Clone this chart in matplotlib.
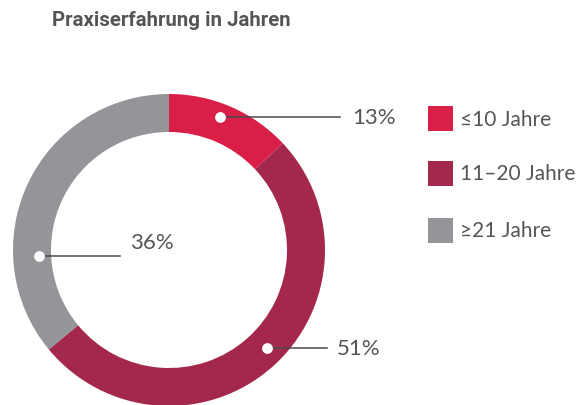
import numpy as np
import matplotlib.pyplot as plt
from matplotlib.patches import Rectangle

# data
categories = ['≤10 Jahre', '11–20 Jahre', '≥21 Jahre']
shares = [13, 51, 36]
colors = ['#d91e48', '#a3284b', '#939598']
labels = ['13%', '51%', '36%']

W, H = 576, 406
fig = plt.figure(figsize=(W / 100, H / 100), dpi=100)
ax = fig.add_axes([0, 0, 1, 1])

cx, cy = 169, H - 251
r_out, ring = 156, 38
ax.pie(shares, colors=colors, startangle=90, counterclock=False,
       center=(cx, cy), radius=r_out, frame=True,
       wedgeprops=dict(width=ring, linewidth=0))
ax.set_xlim(0, W)
ax.set_ylim(0, H)
ax.set_aspect('equal')
ax.axis('off')

# leader lines: dot angle/radius, line end x, text x, text y offset
dot_ang = [69, -45, 182.6]
dot_rad = [142, 139, 130]
line_end = [340, 327, 120]
text_x = [352, 337, 130]
text_dy = [0, 0, 14]
for ang, rad, le, tx, dy, lab in zip(dot_ang, dot_rad, line_end, text_x, text_dy, labels):
    a = np.deg2rad(ang)
    px = cx + rad * np.cos(a)
    py = cy + rad * np.sin(a)
    ax.plot([px, le], [py, py], color='#4a4a4a', lw=1.1, zorder=3)
    ax.scatter([px], [py], s=60, color='white', zorder=4, linewidths=0)
    ax.text(tx, py + dy, lab, fontsize=16, color='#555555', va='center',
            ha='left', family='Lato')

# legend
leg_y = [H - 119.5, H - 174.5, H - 231.5]
for c, lab, y in zip(colors, categories, leg_y):
    ax.add_patch(Rectangle((428, y - 12.5), 25, 25, color=c, lw=0))
    ax.text(460, y, lab, fontsize=15, color='#555555', va='center',
            ha='left', family=['Lato', 'DejaVu Sans'])

ax.text(52, H - 20, 'Praxiserfahrung in Jahren', fontsize=14.7,
        color='#555555', va='center', ha='left', family='Roboto',
        fontweight='bold')

fig.savefig('out.png', dpi=100)
